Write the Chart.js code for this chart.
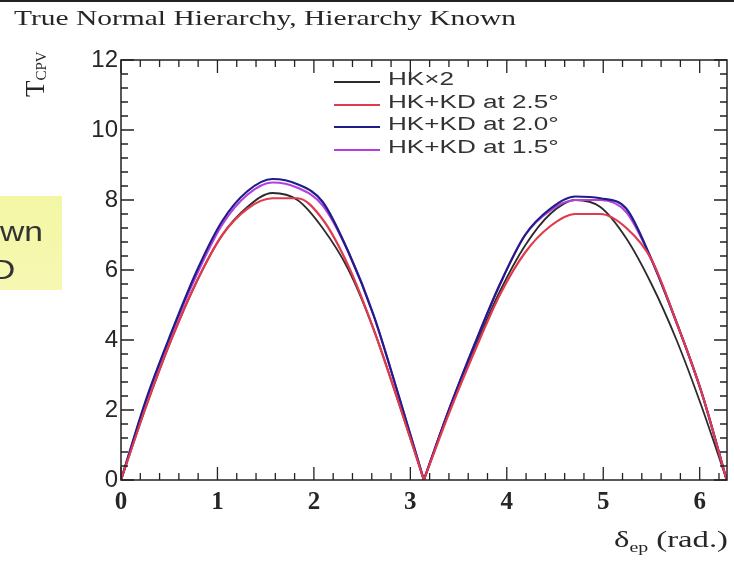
<!DOCTYPE html>
<html>
<head>
<meta charset="utf-8">
<script src="https://cdn.jsdelivr.net/npm/chart.js@4.4.0/dist/chart.umd.min.js"></script>
<style>
  html, body { margin: 0; padding: 0; background: #fff; }
  #wrap { position: relative; width: 734px; height: 565px; overflow: hidden; background: #fff; }
  #plot { position: absolute; left: 0; top: 0; }
  .lbl { position: absolute; white-space: nowrap; color: #262626; transform-origin: 0 0; }
  #topRule { position: absolute; left: 0; top: 0; width: 734px; height: 2px; background: #222; }
  #title { left: 14px; top: 5px; font: 22px "Liberation Serif", serif; transform: scaleX(1.34); }
  #ytitle { left: 20px; top: 97px; font: 27px "Liberation Serif", serif; transform: rotate(-90deg); }
  #ytitle sub { font-size: 15px; vertical-align: -2px; }
  #xtitle { left: 614px; top: 527px; font: 23px "Liberation Serif", serif; transform: scaleX(1.42); }
  #xtitle sub { font-size: 14px; vertical-align: -5px; }
  #note { position: absolute; left: 0; top: 196px; width: 62px; height: 94px; overflow: hidden;
          background: linear-gradient(#f3f7a4, #f6f8b2); }
  #note div { position: absolute; font: 28px "Liberation Sans", sans-serif; color: #333; transform-origin: 0 0; transform: scaleX(1.2); }
  #legend { position: absolute; left: 334px; top: 70px; }
  #legend .row { position: relative; height: 22.7px; }
  #legend .swatch { position: absolute; left: 0; top: 11px; width: 46px; height: 2px; }
  #legend .txt { position: absolute; left: 54px; top: -1px; font: 18px "Liberation Sans", sans-serif; color: #333;
                 transform-origin: 0 0; transform: scaleX(1.45); white-space: nowrap; }
</style>
</head>
<body>
<div id="wrap">
  <canvas id="plot" width="734" height="565"></canvas>
  <div id="topRule"></div>
  <div class="lbl" id="title">True Normal Hierarchy, Hierarchy Known</div>
  <div class="lbl" id="ytitle">T<sub>CPV</sub></div>
  <div class="lbl" id="xtitle">&delta;<sub>ep</sub> (rad.)</div>
  <div id="note">
    <div style="left:0px; top:20px;">wn</div>
    <div style="left:-9px; top:58px;">D</div>
  </div>
  <div id="legend"></div>
</div>
<script>
// delta_CP scan points (rad.)
const deltaCP = [0, 0.26, 0.52, 0.79, 1.05, 1.31, 1.57, 1.83, 2.09, 2.36, 2.62, 2.88, 3.14,
                 3.40, 3.67, 3.93, 4.19, 4.45, 4.71, 4.97, 5.24, 5.50, 5.76, 6.02, 6.28];

// T_CPV for each configuration
const hkx2  = [0, 2.1, 4.0, 5.7, 7.0, 7.8, 8.2, 8.0, 7.2, 6.0, 4.3, 2.2, 0,
               2.0, 3.8, 5.4, 6.7, 7.6, 8.0, 7.8, 6.9, 5.6, 4.0, 2.1, 0];
const kd25  = [0, 2.1, 4.0, 5.7, 7.0, 7.75, 8.05, 8.05, 7.45, 6.1, 4.3, 2.2, 0,
               1.9, 3.7, 5.3, 6.5, 7.25, 7.6, 7.6, 7.2, 6.3, 4.5, 2.5, 0];
const kd20  = [0, 2.3, 4.2, 6.0, 7.4, 8.25, 8.6, 8.45, 7.95, 6.5, 4.7, 2.4, 0,
               2.0, 3.9, 5.6, 7.0, 7.75, 8.1, 8.05, 7.75, 6.3, 4.5, 2.5, 0];
const kd15  = [0, 2.25, 4.15, 5.9, 7.3, 8.15, 8.5, 8.35, 7.85, 6.5, 4.7, 2.4, 0,
               2.0, 3.9, 5.6, 7.0, 7.7, 8.0, 8.0, 7.65, 6.3, 4.5, 2.5, 0];

const seriesNames  = ['HK\u00d72', 'HK+KD at 2.5\u00b0', 'HK+KD at 2.0\u00b0', 'HK+KD at 1.5\u00b0'];
const seriesValues = [hkx2, kd25, kd20, kd15];
const seriesColors = ['#2b2b2b', '#e03a4c', '#1e1e88', '#b43ee0'];

const xTicks = [0, 1, 2, 3, 4, 5, 6];
const yTicks = [0, 2, 4, 6, 8, 10, 12];

// each curve is drawn as two humps so the cusp at pi stays sharp
const cuspIndex = deltaCP.indexOf(3.14);
const datasets = [];
[1, 2, 3, 0].forEach(i => {
  [[0, cuspIndex], [cuspIndex, deltaCP.length - 1]].forEach(([from, to]) => {
    datasets.push({
      label: seriesNames[i],
      data: deltaCP.slice(from, to + 1).map((x, j) => ({ x: x, y: seriesValues[i][from + j] })),
      borderColor: seriesColors[i],
      borderWidth: i === 0 ? 1.8 : 2.2,
      pointRadius: 0,
      cubicInterpolationMode: 'monotone',
      fill: false
    });
  });
});

// ROOT style frame with inward ticks on all four sides
const framePlugin = {
  id: 'frame',
  afterDatasetsDraw(chart) {
    const { ctx, chartArea: a, scales } = chart;
    const xs = scales.x, ys = scales.y;
    ctx.save();
    ctx.strokeStyle = '#222';
    ctx.lineWidth = 1.5;
    ctx.strokeRect(a.left, a.top, a.right - a.left, a.bottom - a.top);
    ctx.beginPath();
    for (let i = 0; i <= 31; i++) {
      const v = i * 0.2;
      if (v > xs.max) break;
      const px = xs.getPixelForValue(v);
      const len = i % 5 === 0 ? 13 : 7;
      ctx.moveTo(px, a.bottom); ctx.lineTo(px, a.bottom - len);
      ctx.moveTo(px, a.top); ctx.lineTo(px, a.top + len);
    }
    for (let i = 0; i <= 30; i++) {
      const py = ys.getPixelForValue(i * 0.4);
      const len = i % 5 === 0 ? 13 : 7;
      ctx.moveTo(a.left, py); ctx.lineTo(a.left + len, py);
      ctx.moveTo(a.right, py); ctx.lineTo(a.right - len, py);
    }
    ctx.lineWidth = 1.3;
    ctx.stroke();
    ctx.restore();
  }
};

new Chart(document.getElementById('plot'), {
  type: 'line',
  data: { datasets },
  plugins: [framePlugin],
  options: {
    responsive: false,
    animation: false,
    devicePixelRatio: 1,
    layout: { padding: { top: 60, right: 7, left: 0, bottom: 0 } },
    plugins: { legend: { display: false }, tooltip: { enabled: false } },
    scales: {
      x: {
        type: 'linear', min: 0, max: 6.2832,
        afterBuildTicks: s => { s.ticks = xTicks.map(v => ({ value: v })); },
        afterFit: s => { s.height = 85; },
        grid: { display: false, drawTicks: false },
        border: { display: false },
        ticks: { padding: 8, color: '#262626', font: { family: 'Liberation Serif', size: 25, weight: 'bold' } }
      },
      y: {
        type: 'linear', min: 0, max: 12,
        afterBuildTicks: s => { s.ticks = yTicks.map(v => ({ value: v })); },
        afterFit: s => { s.width = 121; },
        grid: { display: false, drawTicks: false },
        border: { display: false },
        ticks: { padding: 3, color: '#262626', font: { family: 'Liberation Sans', size: 24 } }
      }
    }
  }
});

// legend entries
const legend = document.getElementById('legend');
seriesNames.forEach((name, i) => {
  const row = document.createElement('div');
  row.className = 'row';
  row.innerHTML = '<span class="swatch" style="background:' + seriesColors[i] + '"></span>' +
                  '<span class="txt">' + name + '</span>';
  legend.appendChild(row);
});
</script>
</body>
</html>
